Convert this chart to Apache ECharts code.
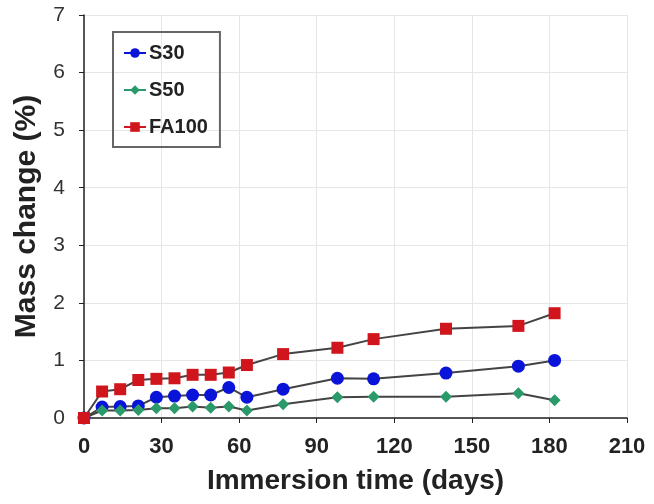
<!DOCTYPE html>
<html>
<head>
<meta charset="utf-8">
<script src="https://cdn.jsdelivr.net/npm/echarts@6/dist/echarts.min.js"></script>
<style>html,body{margin:0;padding:0;background:#fff;}#c{width:654px;height:504px;}</style>
</head>
<body>
<div id="c"></div>
<script>
var days = [0, 7, 14, 21, 28, 35, 42, 49, 56, 63, 77, 98, 112, 140, 168, 182];
var s30 = [0, 0.19, 0.20, 0.21, 0.36, 0.38, 0.40, 0.40, 0.53, 0.36, 0.50, 0.69, 0.68, 0.78, 0.90, 1.00];
var s50 = [0, 0.13, 0.13, 0.14, 0.17, 0.17, 0.20, 0.18, 0.20, 0.13, 0.24, 0.36, 0.37, 0.37, 0.43, 0.31];
var fa100 = [0, 0.46, 0.50, 0.66, 0.68, 0.69, 0.75, 0.75, 0.79, 0.92, 1.11, 1.22, 1.37, 1.55, 1.60, 1.82];
var seriesNames = ['S30', 'S50', 'FA100'];
var colors = ['#0a14d8', '#2a9a6a', '#d0161c'];

function pairs(v) { return days.map(function (d, i) { return [d, v[i]]; }); }

var chart = echarts.init(document.getElementById('c'));
var font = 'Liberation Sans, Arial, sans-serif';
var symbols = ['circle', 'diamond', 'rect'];
var sizes = [13, 12, 12];
var vals = [s30, s50, fa100];

chart.setOption({
  animation: false,
  backgroundColor: '#fff',
  grid: { left: 84, right: 27, top: 15, bottom: 86 },
  legend: {
    orient: 'vertical',
    left: 113, top: 32,
    padding: [11, 12, 10, 10],
    itemGap: 17,
    itemWidth: 22, itemHeight: 12,
    borderColor: '#666', borderWidth: 2,
    textStyle: { fontFamily: font, fontWeight: 'bold', fontSize: 20, color: '#222', padding: [0, 0, 0, -2] },
    data: seriesNames.map(function (n, i) {
      return { name: n, lineStyle: { color: colors[i], width: 2 } };
    })
  },
  xAxis: {
    type: 'value', min: 0, max: 210, interval: 30,
    name: 'Immersion time (days)', nameLocation: 'middle', nameGap: 49,
    nameTextStyle: { fontFamily: font, fontWeight: 'bold', fontSize: 28, color: '#222' },
    axisLine: { lineStyle: { color: '#222', width: 1.5 } },
    axisTick: { show: true, length: 5, lineStyle: { color: '#222' } },
    axisLabel: { fontFamily: font, fontWeight: 'bold', fontSize: 22, color: '#222', margin: 18 },
    splitLine: { show: true, lineStyle: { color: '#e6e6e6', width: 1 } }
  },
  yAxis: {
    type: 'value', min: 0, max: 7, interval: 1,
    name: 'Mass change (%)', nameLocation: 'middle', nameGap: 42,
    nameTextStyle: { fontFamily: font, fontWeight: 'bold', fontSize: 30, color: '#222' },
    axisLine: { show: true, lineStyle: { color: '#222', width: 1.5 } },
    axisTick: { show: true, length: 5, lineStyle: { color: '#222' } },
    axisLabel: { fontFamily: font, fontSize: 21, color: '#333', margin: 19 },
    splitLine: { show: true, lineStyle: { color: '#e6e6e6', width: 1 } }
  },
  series: seriesNames.map(function (n, i) {
    return {
      name: n, type: 'line', data: pairs(vals[i]),
      symbol: symbols[i], symbolSize: sizes[i],
      itemStyle: { color: colors[i] },
      lineStyle: { color: '#444', width: 2 },
      z: 2 + i
    };
  })
});
</script>
</body>
</html>
